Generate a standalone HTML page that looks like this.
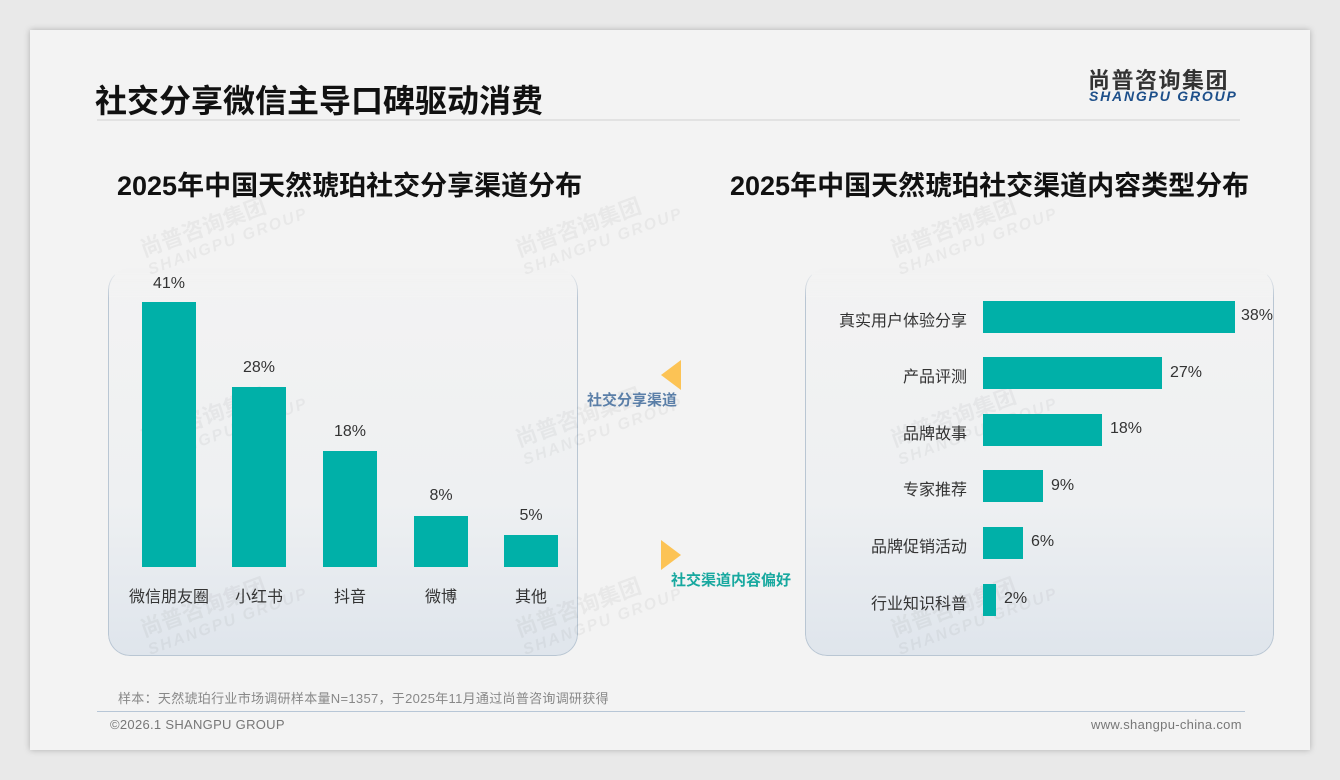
<!DOCTYPE html>
<html><head><meta charset="utf-8"><style>
*{margin:0;padding:0;box-sizing:border-box}
body{width:1340px;height:780px;background:#e9e9e9;position:relative;overflow:hidden;font-family:"Liberation Sans","Noto Sans CJK SC",sans-serif}
.card{position:absolute;left:30px;top:30px;width:1280px;height:720px;background:#f3f3f3;box-shadow:0 0 6px rgba(0,0,0,.25)}
.a{position:absolute}
.title{left:95px;top:76px;font-size:32px;font-weight:bold;color:#111;white-space:nowrap}
.hr{left:97px;top:119px;width:1143px;height:2px;background:#e2e2e2}
.sub{font-size:27px;font-weight:bold;color:#111;top:164px;white-space:nowrap}
.panel{position:absolute;top:268px;height:388px;border:1.5px solid #b9c6d3;border-top-color:transparent;border-radius:22px;background:linear-gradient(#f3f3f3 0%,#eef0f2 60%,#dfe5ec 100%);-webkit-mask:linear-gradient(transparent 0,#000 30px);mask:linear-gradient(transparent 0,#000 30px)}
.bar{position:absolute;background:#00b0a8}
.lab{position:absolute;font-size:16px;color:#333;text-align:center;white-space:nowrap}
.wm{position:absolute;color:rgba(0,0,0,.045);font-weight:bold;transform:rotate(-20deg);font-size:22px;line-height:22px;white-space:nowrap}
.wm span{display:block;font-size:16px;letter-spacing:2px;font-style:italic}
</style></head><body>
<div class="card"></div>
<div class="a title">社交分享微信主导口碑驱动消费</div>
<div class="a" style="left:1088px;top:63px;font-size:22px;font-weight:bold;color:#333;letter-spacing:1.5px">尚普咨询集团</div>
<div class="a" style="left:1089px;top:88px;font-size:14px;font-weight:bold;font-style:italic;color:#1d4f8a;letter-spacing:1.8px">SHANGPU GROUP</div>
<div class="a hr"></div>
<div class="a sub" style="left:117px">2025年中国天然琥珀社交分享渠道分布</div>
<div class="a sub" style="left:730px">2025年中国天然琥珀社交渠道内容类型分布</div>

<div class="panel" style="left:108px;width:470px"></div>
<div class="panel" style="left:805px;width:469px"></div>

<div class="wm" style="left:140px;top:210px">尚普咨询集团<span>SHANGPU GROUP</span></div>
<div class="wm" style="left:515px;top:210px">尚普咨询集团<span>SHANGPU GROUP</span></div>
<div class="wm" style="left:890px;top:210px">尚普咨询集团<span>SHANGPU GROUP</span></div>
<div class="wm" style="left:140px;top:400px">尚普咨询集团<span>SHANGPU GROUP</span></div>
<div class="wm" style="left:515px;top:400px">尚普咨询集团<span>SHANGPU GROUP</span></div>
<div class="wm" style="left:890px;top:400px">尚普咨询集团<span>SHANGPU GROUP</span></div>
<div class="wm" style="left:140px;top:590px">尚普咨询集团<span>SHANGPU GROUP</span></div>
<div class="wm" style="left:515px;top:590px">尚普咨询集团<span>SHANGPU GROUP</span></div>
<div class="wm" style="left:890px;top:590px">尚普咨询集团<span>SHANGPU GROUP</span></div>

<div class="bar" style="left:142px;top:302px;width:54px;height:265px"></div>
<div class="bar" style="left:232px;top:387px;width:54px;height:180px"></div>
<div class="bar" style="left:323px;top:451px;width:54px;height:116px"></div>
<div class="bar" style="left:414px;top:516px;width:54px;height:51px"></div>
<div class="bar" style="left:504px;top:535px;width:54px;height:32px"></div>
<div class="lab" style="left:139px;width:60px;top:275px">41%</div>
<div class="lab" style="left:229px;width:60px;top:359px">28%</div>
<div class="lab" style="left:320px;width:60px;top:423px">18%</div>
<div class="lab" style="left:411px;width:60px;top:487px">8%</div>
<div class="lab" style="left:501px;width:60px;top:507px">5%</div>
<div class="lab" style="left:119px;width:100px;top:583px">微信朋友圈</div>
<div class="lab" style="left:209px;width:100px;top:583px">小红书</div>
<div class="lab" style="left:300px;width:100px;top:583px">抖音</div>
<div class="lab" style="left:391px;width:100px;top:583px">微博</div>
<div class="lab" style="left:481px;width:100px;top:583px">其他</div>

<div class="a" style="left:661px;top:360px;width:0;height:0;border-top:15px solid transparent;border-bottom:15px solid transparent;border-right:20px solid #fcc355"></div>
<div class="a" style="left:587px;top:389px;font-size:15px;font-weight:bold;color:#5b7fa8">社交分享渠道</div>
<div class="a" style="left:661px;top:540px;width:0;height:0;border-top:15px solid transparent;border-bottom:15px solid transparent;border-left:20px solid #fcc355"></div>
<div class="a" style="left:671px;top:569px;font-size:15px;font-weight:bold;color:#17a89f">社交渠道内容偏好</div>

<div class="bar" style="left:983px;top:301px;width:252px;height:32px"></div>
<div class="bar" style="left:983px;top:357px;width:179px;height:32px"></div>
<div class="bar" style="left:983px;top:414px;width:119px;height:32px"></div>
<div class="bar" style="left:983px;top:470px;width:60px;height:32px"></div>
<div class="bar" style="left:983px;top:527px;width:40px;height:32px"></div>
<div class="bar" style="left:983px;top:584px;width:13px;height:32px"></div>
<div class="lab" style="right:373px;top:307px;text-align:right">真实用户体验分享</div>
<div class="lab" style="right:373px;top:363px;text-align:right">产品评测</div>
<div class="lab" style="right:373px;top:420px;text-align:right">品牌故事</div>
<div class="lab" style="right:373px;top:476px;text-align:right">专家推荐</div>
<div class="lab" style="right:373px;top:533px;text-align:right">品牌促销活动</div>
<div class="lab" style="right:373px;top:590px;text-align:right">行业知识科普</div>
<div class="lab" style="left:1241px;top:307px">38%</div>
<div class="lab" style="left:1170px;top:364px">27%</div>
<div class="lab" style="left:1110px;top:420px">18%</div>
<div class="lab" style="left:1051px;top:477px">9%</div>
<div class="lab" style="left:1031px;top:533px">6%</div>
<div class="lab" style="left:1004px;top:590px">2%</div>

<div class="a" style="left:118px;top:688px;font-size:13px;color:#888;letter-spacing:.3px;white-space:nowrap">样本：天然琥珀行业市场调研样本量N=1357，于2025年11月通过尚普咨询调研获得</div>
<div class="a" style="left:97px;top:711px;width:1148px;height:1px;background:#b7c6d6"></div>
<div class="a" style="left:110px;top:717px;font-size:13px;color:#777;letter-spacing:.3px">©2026.1 SHANGPU GROUP</div>
<div class="a" style="left:1091px;top:717px;font-size:13px;color:#777;letter-spacing:.3px">www.shangpu-china.com</div>
</body></html>
